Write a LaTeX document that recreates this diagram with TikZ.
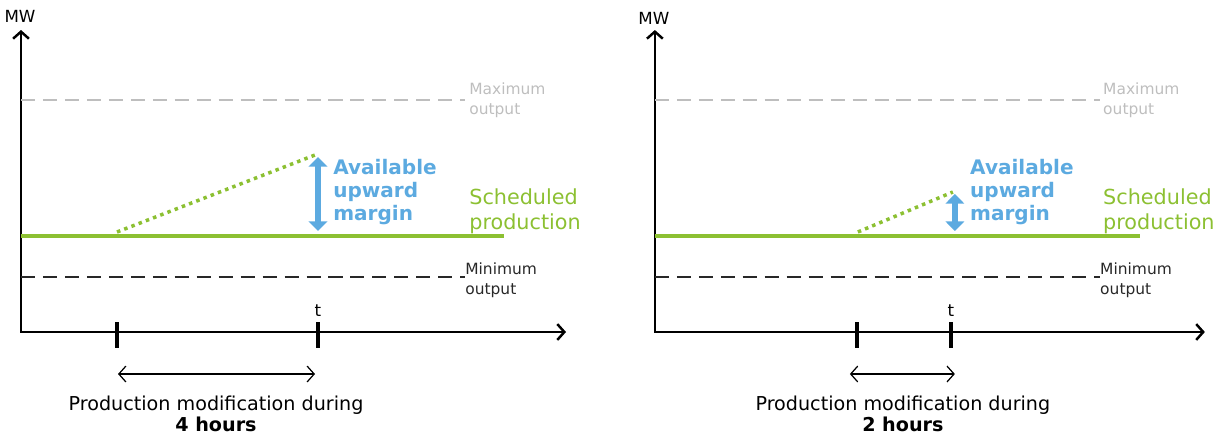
\documentclass[tikz,border=0pt]{standalone}
\usepackage{fontspec}
\setmainfont{DejaVu Sans}
\usetikzlibrary{arrows.meta}
\definecolor{schedgreen}{RGB}{140,192,50}
\definecolor{marginblue}{RGB}{92,170,224}
\definecolor{limitgray}{RGB}{190,190,190}
\definecolor{limitdark}{RGB}{40,40,40}

\begin{document}
\begin{tikzpicture}[x=0.02cm,y=-0.02cm,>=Straight Barb,
  axisline/.style={line width=1.4pt,{Straight Barb[length=4pt,width=9pt]}-{Straight Barb[length=4pt,width=9pt]}},
  maxline/.style={limitgray,line width=1.1pt,dash pattern=on 8pt off 4.5pt},
  minline/.style={limitdark,line width=1.1pt,dash pattern=on 8pt off 4.5pt},
  schedline/.style={schedgreen,line width=2.3pt},
  rampline/.style={schedgreen,line width=2pt,dash pattern=on 2pt off 2.4pt},
  marginarrow/.style={marginblue,line width=3.8pt,{Triangle[length=5.5pt,width=10.5pt]}-{Triangle[length=5.5pt,width=10.5pt]}},
  tickmark/.style={line width=2.2pt},
  spanarrow/.style={line width=0.7pt,{Straight Barb[length=4pt,width=9pt]}-{Straight Barb[length=4pt,width=9pt]}},
  smalllbl/.style={font=\fontsize{8.8}{11.3}\selectfont,align=left,inner sep=0pt,anchor=west},
  marginlbl/.style={marginblue,font=\fontsize{11.4}{13.3}\selectfont\bfseries,align=left,inner sep=0pt,anchor=west},
  schedlbl/.style={schedgreen,font=\fontsize{11.8}{14.2}\selectfont,align=left,inner sep=0pt,anchor=west},
  captionlbl/.style={font=\fontsize{10.9}{12}\selectfont,align=center,inner sep=0pt},
  axislbl/.style={font=\fontsize{9.5}{10}\selectfont,inner sep=0pt}]
  \useasboundingbox (0,0) rectangle (1221,447);

  % left panel: 4 hours
  \begin{scope}
    \coordinate (oa) at (21,332);
    \coordinate (ya) at (21,30);
    \coordinate (xa) at (566,332);
    \draw[axisline] (ya) -- (oa) -- (xa);
    \node[axislbl] (mwa) at (20,16) {MW};
    \coordinate (maxsa) at (21,100);
    \coordinate (maxea) at (465,100);
    \draw[maxline] (maxsa) -- (maxea);
    \node[smalllbl,limitgray] (maxlbla) at (469,100) {Maximum\\output};
    \coordinate (minsa) at (21,277);
    \coordinate (minea) at (465,277);
    \draw[minline] (minsa) -- (minea);
    \node[smalllbl,limitdark] (minlbla) at (465,280) {Minimum\\output};
    \coordinate (schedsa) at (21,236);
    \coordinate (schedea) at (504,236);
    \draw[schedline] (schedsa) -- (schedea);
    \node[schedlbl] (schedlbla) at (469,211) {Scheduled\\production};
    \coordinate (rampsa) at (117,232);
    \coordinate (rampea) at (315,155);
    \draw[rampline] (rampsa) -- (rampea);
    \coordinate (margtopa) at (318,157);
    \coordinate (margbota) at (318,231);
    \draw[marginarrow] (margtopa) -- (margbota);
    \node[marginlbl] (marglbla) at (333,192) {Available\\upward\\margin};
    \coordinate (tstarta) at (117,322);
    \coordinate (tstartba) at (117,348);
    \coordinate (tenda) at (318,322);
    \coordinate (tendba) at (318,348);
    \draw[tickmark] (tstarta) -- (tstartba);
    \draw[tickmark] (tenda) -- (tendba);
    \node[axislbl] (ta) at (318,311) {t};
    \coordinate (spansa) at (118,374);
    \coordinate (spanea) at (315,374);
    \draw[spanarrow] (spansa) -- (spanea);
    \node[captionlbl] (capa) at (216,414) {Production modification during\\\textbf{4 hours}};
  \end{scope}

  % right panel: 2 hours
  \begin{scope}[xshift=12.68cm]
    \coordinate (ob) at (21,332);
    \coordinate (yb) at (21,30);
    \coordinate (xb) at (571,332);
    \draw[axisline] (yb) -- (ob) -- (xb);
    \node[axislbl] (mwb) at (20,18) {MW};
    \coordinate (maxsb) at (21,100);
    \coordinate (maxeb) at (466,100);
    \draw[maxline] (maxsb) -- (maxeb);
    \node[smalllbl,limitgray] (maxlblb) at (469,100) {Maximum\\output};
    \coordinate (minsb) at (21,277);
    \coordinate (mineb) at (466,277);
    \draw[minline] (minsb) -- (mineb);
    \node[smalllbl,limitdark] (minlblb) at (466,280) {Minimum\\output};
    \coordinate (schedsb) at (21,236);
    \coordinate (schedeb) at (506,236);
    \draw[schedline] (schedsb) -- (schedeb);
    \node[schedlbl] (schedlblb) at (469,211) {Scheduled\\production};
    \coordinate (rampsb) at (224,232);
    \coordinate (rampeb) at (319,192);
    \draw[rampline] (rampsb) -- (rampeb);
    \coordinate (margtopb) at (321,194);
    \coordinate (margbotb) at (321,231);
    \draw[marginarrow] (margtopb) -- (margbotb);
    \node[marginlbl] (marglblb) at (336,192) {Available\\upward\\margin};
    \coordinate (tstartb) at (223,322);
    \coordinate (tstartbb) at (223,348);
    \coordinate (tendb) at (317,322);
    \coordinate (tendbb) at (317,348);
    \draw[tickmark] (tstartb) -- (tstartbb);
    \draw[tickmark] (tendb) -- (tendbb);
    \node[axislbl] (tb) at (317,311) {t};
    \coordinate (spansb) at (216,374);
    \coordinate (spaneb) at (321,374);
    \draw[spanarrow] (spansb) -- (spaneb);
    \node[captionlbl] (capb) at (269,414) {Production modification during\\\textbf{2 hours}};
  \end{scope}
\end{tikzpicture}
\end{document}
